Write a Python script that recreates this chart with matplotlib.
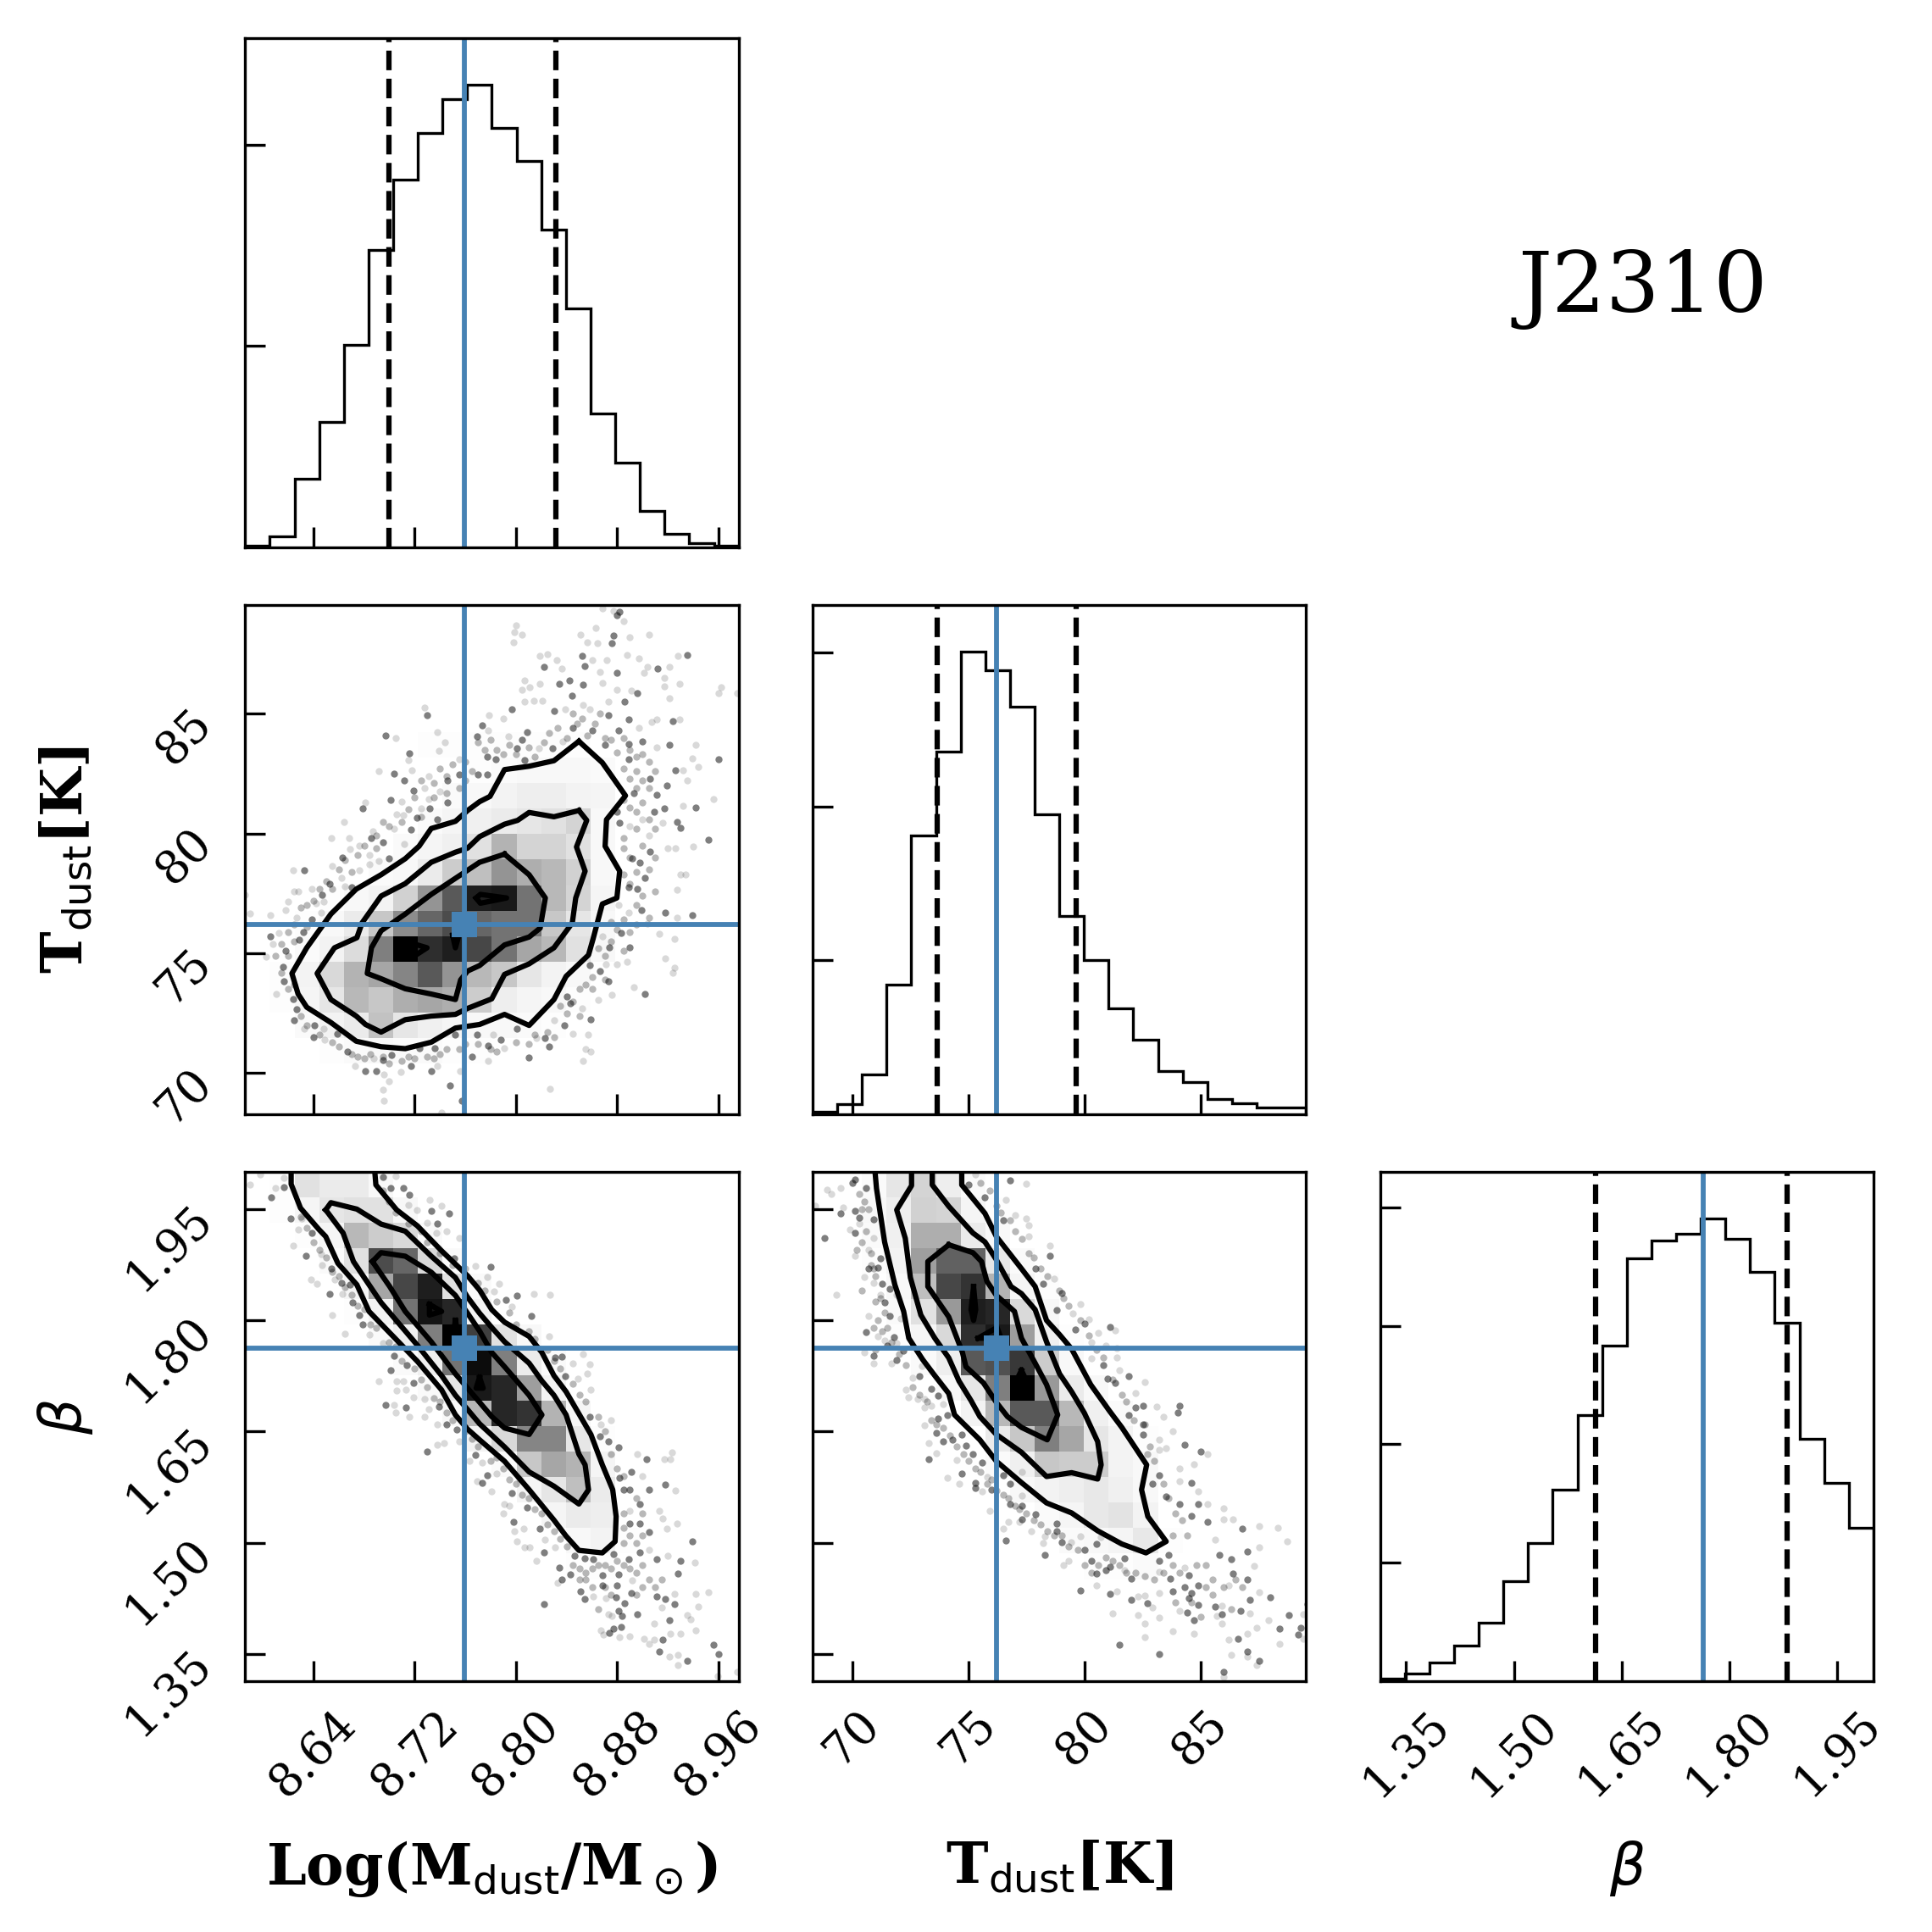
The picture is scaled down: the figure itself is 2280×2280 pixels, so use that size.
import numpy as np
import matplotlib
matplotlib.use("Agg")
import matplotlib.pyplot as plt
from matplotlib.transforms import ScaledTranslation

plt.rcParams['font.family'] = 'DejaVu Serif'
plt.rcParams['mathtext.fontset'] = 'dejavusans'
plt.rcParams['axes.linewidth'] = 0.8

# axis ranges and ticks
m_range = [8.5862, 8.9758]
t_range = [68.29, 89.53]
b_range = [1.3137, 2.0]
m_ticks = [8.64, 8.72, 8.80, 8.88, 8.96]
t_ticks = [70, 75, 80, 85]
b_ticks = [1.35, 1.50, 1.65, 1.80, 1.95]
m_labels = ['8.64', '8.72', '8.80', '8.88', '8.96']
t_labels = ['70', '75', '80', '85']
b_labels = ['1.35', '1.50', '1.65', '1.80', '1.95']

# best values and 16/84 percentiles
m_true, t_true, b_true = 8.7596, 76.22, 1.763
m_q = [8.6995, 8.8314]
t_q = [73.67, 79.64]
b_q = [1.614, 1.88]

# marginal histograms
m_hist = [3, 28, 171, 311, 502, 739, 913, 1029, 1113, 1149, 1042, 960, 789, 594, 332, 211, 91, 34, 11, 4]
t_hist = [8, 31, 128, 421, 906, 1178, 1503, 1442, 1324, 975, 643, 499, 343, 242, 139, 103, 50, 36, 20, 20]
b_hist = [4, 13, 31, 60, 98, 168, 233, 323, 449, 567, 714, 744, 756, 782, 747, 692, 605, 409, 335, 259]
m_hist_ticks = [500, 1000]
t_hist_ticks = [500, 1000, 1500]
b_hist_ticks = [200, 400, 600, 800]

# 2d density, rows run from the top of the panel down
h_mt = [
    [0]*20,
    [0]*20,
    [0]*20,
    [0]*20,
    [0]*20,
    [0,0,0,0,0,0,0,1,1,1,1,1,1,1,0,0,0,0,0,0],
    [0,0,0,0,0,0,0,0,0,1,2,3,3,3,2,0,0,0,0,0],
    [0,0,0,0,0,0,0,0,2,3,5,7,7,5,4,0,0,0,0,0],
    [0,0,0,0,0,0,0,2,4,6,8,10,12,17,3,0,0,0,0,0],
    [0,0,0,0,0,0,2,4,6,12,30,17,17,12,3,0,0,0,0,0],
    [0,0,0,0,0,2,3,8,20,25,42,32,28,18,3,0,0,0,0,0],
    [0,0,0,1,3,5,18,42,65,88,90,55,28,17,4,0,0,0,0,0],
    [0,0,1,3,8,22,45,60,70,60,55,55,22,10,3,0,0,0,0,0],
    [0,0,2,5,14,50,100,82,88,72,55,35,28,12,3,0,0,0,0,0],
    [0,1,5,15,30,35,48,65,42,28,22,10,5,3,0,0,0,0,0,0],
    [0,1,4,10,28,22,32,35,32,20,7,4,3,1,0,0,0,0,0,0],
    [0,0,2,5,8,24,10,6,4,3,3,2,1,0,0,0,0,0,0,0],
    [0,0,0,1,2,3,2,2,1,1,0,0,0,0,0,0,0,0,0,0],
    [0]*20,
    [0]*20,
]
h_mb = [
    [0,1,12,8,8,3,0,0,0,0,0,0,0,0,0,0,0,0,0,0],
    [0,1,4,10,12,12,3,0,0,0,0,0,0,0,0,0,0,0,0,0],
    [0,0,1,4,28,20,15,2,0,0,0,0,0,0,0,0,0,0,0,0],
    [0,0,0,2,12,70,60,15,2,0,0,0,0,0,0,0,0,0,0,0],
    [0,0,0,0,4,35,72,88,12,2,0,0,0,0,0,0,0,0,0,0],
    [0,0,0,0,1,5,55,92,85,5,0,0,0,0,0,0,0,0,0,0],
    [0,0,0,0,0,2,6,50,100,75,12,3,0,0,0,0,0,0,0,0],
    [0,0,0,0,0,0,2,6,55,95,50,8,2,0,0,0,0,0,0,0],
    [0,0,0,0,0,0,0,2,10,90,85,38,5,0,0,0,0,0,0,0],
    [0,0,0,0,0,0,0,0,3,28,85,80,30,4,0,0,0,0,0,0],
    [0,0,0,0,0,0,0,0,0,5,15,48,48,10,1,0,0,0,0,0],
    [0,0,0,0,0,0,0,0,0,0,2,22,35,30,4,0,0,0,0,0],
    [0,0,0,0,0,0,0,0,0,0,0,4,10,25,8,0,0,0,0,0],
    [0,0,0,0,0,0,0,0,0,0,0,0,4,8,7,0,0,0,0,0],
    [0,0,0,0,0,0,0,0,0,0,0,0,0,3,5,1,0,0,0,0],
    [0,0,0,0,0,0,0,0,0,0,0,0,0,1,1,0,0,0,0,0],
    [0]*20,
    [0]*20,
    [0]*20,
    [0]*20,
]
h_tb = [
    [0,0,2,10,17,7,2,0,0,0,0,0,0,0,0,0,0,0,0,0],
    [0,0,3,7,18,17,4,1,0,0,0,0,0,0,0,0,0,0,0,0],
    [0,0,2,6,32,32,8,3,0,0,0,0,0,0,0,0,0,0,0,0],
    [0,0,1,5,38,62,62,10,2,0,0,0,0,0,0,0,0,0,0,0],
    [0,0,0,3,25,72,80,30,4,1,0,0,0,0,0,0,0,0,0,0],
    [0,0,0,2,12,40,88,85,15,3,0,0,0,0,0,0,0,0,0,0],
    [0,0,0,1,4,15,82,90,38,6,1,0,0,0,0,0,0,0,0,0],
    [0,0,0,0,2,7,65,68,78,20,3,0,0,0,0,0,0,0,0,0],
    [0,0,0,0,0,3,10,50,100,40,8,3,0,0,0,0,0,0,0,0],
    [0,0,0,0,0,0,5,28,65,65,28,6,2,0,0,0,0,0,0,0],
    [0,0,0,0,0,0,0,8,22,50,35,10,5,1,0,0,0,0,0,0],
    [0,0,0,0,0,0,0,2,6,22,20,20,5,3,0,0,0,0,0,0],
    [0,0,0,0,0,0,0,0,3,5,7,9,6,3,0,0,0,0,0,0],
    [0,0,0,0,0,0,0,0,0,2,4,9,11,5,0,0,0,0,0,0],
    [0,0,0,0,0,0,0,0,0,0,2,3,4,9,1,0,0,0,0,0],
    [0,0,0,0,0,0,0,0,0,0,0,1,1,2,0,0,0,0,0,0],
    [0]*20,
    [0]*20,
    [0]*20,
    [0]*20,
]

# contour lines: logM vs T
mt_c1_x = [8.8497,8.8682,8.8865,8.8715,8.8704,8.8819,8.8797,8.8682,8.8609,8.8573,8.8396,8.8300,8.8104,8.7910,8.7713,8.7522,8.7331,8.7126,8.6935,8.6739,8.6539,8.6348,8.6280,8.6231,8.6348,8.6539,8.6739,8.6935,8.7126,8.7235,8.7331,8.7522,8.7618,8.7713,8.7795,8.7910,8.8104,8.8300,8.8497]
mt_c1_y = [83.85,82.96,81.58,80.58,79.47,78.43,77.31,77.06,75.60,74.93,74.04,73.07,71.99,72.45,72.03,71.88,71.29,71.02,71.10,71.33,72.11,72.75,73.30,74.16,75.23,76.64,77.68,78.28,78.95,79.47,80.21,80.51,80.96,81.33,81.55,82.67,82.81,83.04,83.85]
mt_c2_x = [8.8497,8.8559,8.8478,8.8546,8.8472,8.8445,8.8300,8.8104,8.7910,8.7809,8.7618,8.7522,8.7331,8.7126,8.6935,8.6812,8.6739,8.6539,8.6430,8.6567,8.6744,8.6785,8.6935,8.7126,8.7331,8.7522,8.7618,8.7713,8.7910,8.8013,8.8104,8.8300,8.8497]
mt_c2_y = [80.96,80.55,79.44,78.43,77.31,76.27,75.23,74.56,74.12,73.10,72.70,72.45,72.38,72.23,71.71,72.03,72.38,73.07,74.16,75.23,75.65,76.27,77.39,77.91,78.80,79.22,79.39,79.87,80.39,80.55,80.88,80.70,80.96]
mt_c3_x = [8.7910,8.8104,8.8232,8.8191,8.8104,8.7910,8.7713,8.7618,8.7563,8.7522,8.7331,8.7126,8.6935,8.6826,8.6859,8.6935,8.7126,8.7331,8.7522,8.7713,8.7910]
mt_c3_y = [79.14,78.28,77.31,76.05,75.68,75.35,74.49,74.26,73.89,73.07,73.30,73.52,73.94,74.16,75.23,75.94,76.64,77.46,78.13,78.80,79.14]
mt_c4_x = [8.7686,8.7719,8.7926,8.7719,8.7686]
mt_c4_y = [77.31,77.46,77.31,77.09,77.31]
mt_c5_x = [8.7222,8.7298,8.7222]
mt_c5_y = [75.35,75.23,74.97]
mt_c6_x = [8.7500,8.7522,8.7549,8.7500]
mt_c6_y = [75.75,75.23,75.75,75.75]

# logM vs beta
mb_c1_x = [8.6225,8.6225,8.6299,8.6444,8.6498,8.6594,8.6744,8.6840,8.7031,8.7222,8.7413,8.7522,8.7618,8.7713,8.7910,8.8104,8.8300,8.8396,8.8497,8.8682,8.8783,8.8791,8.8764,8.8682,8.8592,8.8396,8.8300,8.8205,8.8104,8.7910,8.7809,8.7713,8.7618,8.7413,8.7222,8.7058,8.6894,8.6886]
mb_c1_y = [1.9995,1.9837,1.9514,1.9226,1.9130,1.8769,1.8480,1.8120,1.7783,1.7446,1.7061,1.6725,1.6532,1.6388,1.6099,1.5715,1.5306,1.5089,1.4897,1.4863,1.5017,1.5354,1.5715,1.6051,1.6460,1.7037,1.7254,1.7566,1.7783,1.7975,1.8144,1.8408,1.8601,1.8937,1.9274,1.9490,1.9827,1.9995]
mb_c2_x = [8.6498,8.6539,8.6744,8.6935,8.7126,8.7331,8.7522,8.7618,8.7713,8.7809,8.7910,8.8104,8.8205,8.8300,8.8396,8.8497,8.8546,8.8573,8.8497,8.8300,8.8104,8.7910,8.7713,8.7618,8.7522,8.7413,8.7222,8.7031,8.6935,8.6840,8.6717,8.6635,8.6498]
mb_c2_y = [1.9490,1.9587,1.9500,1.9298,1.9202,1.8865,1.8576,1.8312,1.8095,1.7903,1.7711,1.7422,1.7182,1.6989,1.6725,1.6196,1.6051,1.5715,1.5522,1.5763,1.5955,1.6292,1.6604,1.6797,1.6989,1.7254,1.7663,1.8047,1.8240,1.8480,1.8793,1.9178,1.9490]
mb_c3_x = [8.6867,8.6935,8.7126,8.7331,8.7522,8.7618,8.7713,8.7809,8.7910,8.8104,8.8205,8.8104,8.7910,8.7809,8.7618,8.7522,8.7331,8.7126,8.7003,8.6867]
mb_c3_y = [1.8793,1.8913,1.8865,1.8649,1.8336,1.8095,1.7855,1.7566,1.7374,1.6989,1.6725,1.6460,1.6547,1.6701,1.7085,1.7278,1.7711,1.8120,1.8456,1.8793]
mb_c4_x = [8.7317,8.7413,8.7317,8.7317]
mb_c4_y = [1.8216,1.8120,1.8071,1.8216]
mb_c5_x = [8.7522,8.7549,8.7500,8.7522]
mb_c5_y = [1.8000,1.7759,1.7759,1.8000]
mb_c6_x = [8.7713,8.7741,8.7686,8.7713]
mb_c6_y = [1.7230,1.7085,1.7085,1.7230]

# T vs beta
tb_c1_x = [70.98,71.04,71.39,71.83,72.21,72.43,73.03,73.55,74.15,74.40,75.49,76.20,77.28,78.36,79.44,80.56,81.60,82.64,83.51,82.72,82.45,82.67,81.60,81.08,80.26,79.44,78.92,78.36,77.87,77.28,76.20,75.71,74.71,74.71]
tb_c1_y = [1.9995,1.9779,1.9057,1.8480,1.8120,1.7759,1.7470,1.7254,1.7013,1.6725,1.6388,1.6099,1.5811,1.5537,1.5402,1.5161,1.4983,1.4863,1.5017,1.5354,1.5715,1.6051,1.6556,1.6773,1.7133,1.7614,1.7807,1.7999,1.8456,1.8697,1.9130,1.9442,1.9827,1.9995]
tb_c2_x = [72.55,72.55,71.91,72.28,72.50,72.95,73.55,74.15,74.59,75.11,75.49,76.20,77.28,78.36,79.44,80.56,80.71,80.56,79.99,79.44,78.92,78.36,77.87,77.28,76.83,76.20,75.71,75.19,74.15,73.44,73.44]
tb_c2_y = [1.9995,1.9817,1.9490,1.9106,1.8576,1.8071,1.7759,1.7494,1.7182,1.6917,1.6701,1.6460,1.6220,1.5893,1.5945,1.5859,1.6051,1.6364,1.6749,1.7037,1.7278,1.7711,1.8144,1.8360,1.8456,1.8817,1.9057,1.9178,1.9538,1.9827,1.9995]
tb_c3_x = [74.15,75.19,75.56,75.79,76.20,76.98,77.28,77.87,78.36,78.84,78.39,77.28,76.68,76.20,75.64,74.89,74.74,74.15,73.25,73.25,74.15]
tb_c3_y = [1.9019,1.8913,1.8793,1.8528,1.8336,1.8120,1.7759,1.7422,1.7133,1.6725,1.6388,1.6556,1.6701,1.6893,1.7158,1.7374,1.7566,1.8047,1.8456,1.8793,1.9019]
tb_c4_x = [75.22,75.31,75.22,75.11,75.22]
tb_c4_y = [1.8456,1.8144,1.7999,1.8144,1.8456]
tb_c5_x = [75.41,76.23,76.40,75.41]
tb_c5_y = [1.7759,1.7903,1.7759,1.7759]
tb_c6_x = [77.28,77.57,76.98,77.28]
tb_c6_y = [1.7326,1.7133,1.7133,1.7326]

# samples outside the contours, faint ones and the darker overlapped ones
mt_faint = [(8.877,89.3),(8.868,89.4),(8.863,88.6),(8.885,88.85),(8.905,88.3),(8.89,88.2),(8.864,87.95),(8.856,88.0),(8.851,88.3),(8.8,88.7),(8.805,88.3),(8.799,88.4),(8.798,88.0),(8.928,87.4),(8.897,87.3),(8.888,87.45),(8.872,87.25),(8.86,87.25),(8.832,87.25),(8.825,87.5),(8.819,87.4),(8.836,86.9),(8.904,86.95),(8.921,86.95),(8.901,86.7),(8.866,86.75),(8.917,86.5),(8.807,86.4),(8.819,86.25),(8.868,86.3),(8.88,86.0),(8.891,85.95),(8.921,85.65),(8.929,86.25),(8.917,86.15),(8.962,86.1),(8.96,85.85),(8.975,85.85),(8.805,86.0),(8.811,86.1),(8.821,85.55),(8.814,85.55),(8.807,85.5),(8.873,85.5),(8.853,85.35),(8.839,85.2),(8.858,85.2),(8.929,84.75),(8.911,84.75),(8.907,84.65),(8.897,84.4),(8.79,84.8),(8.779,84.95),(8.778,84.3),(8.794,84.05),(8.818,83.55),(8.837,83.85),(8.911,83.6),(8.942,83.7),(8.939,83.15),(8.944,82.8),(8.932,82.65),(8.935,82.2),
    (8.728,85.25),(8.738,84.25),(8.705,84.0),(8.715,83.05),(8.739,83.45),(8.744,83.8),(8.755,83.1),(8.692,82.6),(8.718,82.65),(8.731,82.4),(8.728,81.9),(8.71,81.35),(8.731,81.45),(8.74,81.75),(8.681,81.3),(8.725,81.05),(8.706,80.8),(8.711,80.75),(8.664,80.5),(8.687,80.1),(8.704,80.2),(8.654,79.8),(8.668,79.8),(8.712,79.55),(8.676,79.5),(8.669,79.35),(8.684,79.1),(8.692,78.85),(8.684,78.7),(8.655,78.65),(8.624,78.45),(8.662,78.15),(8.676,78.45),(8.639,77.7),(8.628,77.6),(8.625,77.6),(8.665,77.8),(8.62,77.15),(8.648,77.15),(8.642,77.1),(8.618,76.8),(8.586,77.45),(8.59,76.65),(8.606,76.6),(8.627,76.5),(8.646,76.7),(8.613,75.85),(8.608,75.4),(8.603,74.85),(8.611,73.3),(8.633,71.85),(8.648,71.85),(8.649,71.4),
    (8.673,70.3),(8.688,70.6),(8.696,69.95),(8.709,70.05),(8.738,70.3),(8.695,69.3),(8.696,68.85),(8.7,69.65),(8.741,68.35),(8.756,70.1),(8.778,70.5),(8.791,71.05),(8.782,71.6),(8.816,71.45),(8.827,69.35),(8.855,71.0),(8.859,70.9),(8.853,70.5),(8.857,71.6),(8.845,71.65),(8.83,72.2),(8.852,72.7),(8.865,73.05),(8.876,73.25),(8.893,73.6),(8.88,74.55),(8.871,74.55),(8.888,74.65),(8.924,74.2),(8.925,74.4),(8.918,74.8),(8.925,75.6),(8.913,75.8),(8.868,75.7),(8.904,76.25),(8.927,76.5),(8.889,76.7),(8.881,77.0),(8.927,77.65),(8.934,78.3),(8.93,78.3),(8.92,79.4),(8.926,79.4),(8.94,79.45),(8.905,79.9),(8.89,80.3),(8.9,80.6),(8.916,80.45),(8.956,81.45),(8.932,81.15)]
mt_dark = [(8.882,89.25),(8.88,89.1),(8.877,88.25),(8.876,87.95),(8.935,87.45),(8.852,87.4),(8.854,87.0),(8.822,86.95),(8.912,86.9),(8.88,86.7),(8.842,86.4),(8.834,86.25),(8.853,86.2),(8.896,85.85),(8.844,85.75),(8.886,85.5),(8.797,85.2),(8.83,85.1),(8.873,84.95),(8.889,84.75),(8.881,84.3),(8.924,84.7),(8.845,84.4),(8.86,84.3),(8.809,84.25),(8.773,84.5),(8.769,84.05),(8.805,83.9),(8.801,83.55),(8.829,83.55),(8.87,83.7),(8.889,83.75),(8.9,83.85),(8.921,83.7),(8.96,83.1),(8.926,82.65),(8.906,82.3),(8.919,82.0),(8.889,83.1),(8.777,83.2),(8.784,83.1),(8.807,83.05),(8.77,82.45),(8.777,82.45),
    (8.73,84.95),(8.697,84.1),(8.716,83.35),(8.704,82.5),(8.712,82.2),(8.746,82.2),(8.755,82.45),(8.719,81.8),(8.701,81.4),(8.746,81.3),(8.679,81.05),(8.732,81.05),(8.722,80.65),(8.738,80.6),(8.717,80.15),(8.686,79.8),(8.695,79.65),(8.663,79.0),(8.7,78.95),(8.633,78.45),(8.653,77.9),(8.647,77.45),(8.67,77.75),(8.639,76.4),(8.632,75.9),(8.606,75.7),(8.629,75.55),(8.618,75.1),(8.616,74.45),(8.617,73.85),(8.624,73.1),(8.627,72.65),(8.625,72.2),(8.641,72.0),(8.64,71.5),(8.659,71.65),
    (8.667,70.9),(8.681,70.1),(8.69,70.1),(8.695,70.55),(8.702,70.75),(8.717,70.3),(8.733,70.1),(8.748,69.5),(8.757,68.85),(8.765,70.7),(8.778,71.15),(8.788,71.4),(8.769,71.6),(8.752,71.6),(8.736,71.05),(8.724,71.05),(8.801,71.85),(8.81,70.65),(8.826,71.1),(8.823,71.45),(8.838,72.0),(8.859,72.25),(8.843,72.9),(8.84,73.2),(8.902,73.3),(8.873,73.85),(8.866,74.25),(8.858,74.5),(8.874,75.25),(8.89,75.25),(8.883,75.85),(8.918,76.7),(8.939,76.6),(8.899,76.8),(8.896,77.7),(8.889,77.75),(8.902,78.15),(8.898,78.8),(8.892,78.95),(8.906,79.25),(8.952,79.75),(8.93,80.25),(8.927,80.5),(8.882,80.45),(8.88,80.9),(8.942,81.1),(8.917,81.05),(8.909,80.9),(8.911,81.6),(8.893,81.7)]
mt_band = [(8.77,83.8),(8.775,83.5),(8.78,83.9),(8.785,83.5),(8.79,83.3),(8.795,83.7),(8.8,83.3),(8.81,83.6),(8.815,83.2),(8.822,83.8),(8.826,84.2),(8.833,84.4),(8.84,84.0),(8.845,85.0),(8.848,84.6),(8.852,84.8),(8.856,84.1),(8.862,84.6),(8.866,85.0),(8.87,84.0),(8.875,83.9),(8.88,83.4),(8.885,84.0),(8.89,83.5),(8.895,83.2),(8.9,83.3),(8.905,83.0),(8.91,82.6),(8.895,82.6),(8.9,82.2),(8.89,82.3),(8.885,82.7),(8.895,81.9),(8.905,81.9),(8.9,81.3),(8.89,81.1),(8.885,81.4),(8.895,80.9),(8.905,80.6),(8.91,80.2),(8.895,80.2),(8.885,79.8),(8.885,79.4),(8.89,79.0),(8.9,79.5),(8.91,79.0),(8.895,78.4),(8.905,78.5),(8.885,78.3),(8.89,77.9),(8.9,77.4),(8.91,77.6),(8.895,77.0),(8.905,76.5),(8.885,76.4),(8.875,76.3),(8.88,76.0),(8.89,75.9),(8.895,76.2),(8.875,75.5),(8.865,75.2),(8.87,74.9),(8.885,75.1),(8.86,74.0),(8.87,73.9),(8.855,73.7),(8.85,73.5),(8.86,73.5),(8.845,73.0),(8.85,72.4),(8.84,72.5),(8.835,72.8),
    (8.76,83.0),(8.75,82.9),(8.74,82.7),(8.745,82.4),(8.735,82.1),(8.725,82.2),(8.76,82.2),(8.765,82.6),(8.755,81.9),(8.745,81.7),(8.735,81.5),(8.72,81.5),(8.715,81.0),(8.725,80.7),(8.71,80.5),(8.7,80.3),(8.695,80.5),(8.69,79.9),(8.68,79.5),(8.69,79.4),(8.675,79.1),(8.665,78.9),(8.67,78.4),(8.66,78.5),(8.65,78.0),(8.655,77.7),(8.645,77.7),(8.64,77.2),(8.635,77.0),(8.63,76.9),(8.625,76.2),(8.635,76.1),(8.62,75.9),(8.625,75.5),(8.615,75.4),(8.62,74.9),(8.61,74.9),(8.615,74.2),(8.62,73.5),(8.625,73.7),
    (8.63,72.4),(8.635,72.0),(8.645,71.6),(8.655,71.3),(8.66,71.1),(8.67,70.8),(8.675,70.7),(8.68,70.6),(8.685,70.8),(8.695,70.7),(8.7,70.4),(8.71,70.5),(8.715,70.7),(8.72,70.6),(8.73,70.7),(8.735,70.6),(8.74,70.8),(8.745,71.0),(8.755,71.0),(8.76,71.2),(8.77,71.2),(8.78,71.0),(8.785,70.9),(8.8,71.3),(8.81,71.2),(8.815,71.6),(8.825,71.7),(8.83,71.5)]

mb_faint = [(8.59,1.983),(8.598,1.997),(8.61,1.978),(8.617,1.992),(8.631,1.937),(8.628,1.923),(8.624,1.901),(8.646,1.889),(8.647,1.874),(8.638,1.855),(8.643,1.849),(8.657,1.855),(8.663,1.836),(8.655,1.807),(8.665,1.782),(8.684,1.781),(8.695,1.769),(8.711,1.718),(8.706,1.718),(8.692,1.718),(8.706,1.705),(8.713,1.706),(8.719,1.696),(8.728,1.694),(8.704,1.686),(8.705,1.676),(8.716,1.67),(8.728,1.67),(8.731,1.68),(8.738,1.66),(8.743,1.634),(8.738,1.632),(8.755,1.637),(8.763,1.61),(8.773,1.608),(8.769,1.583),(8.781,1.569),(8.785,1.593),(8.791,1.552),(8.795,1.55),(8.803,1.586),(8.79,1.539),(8.806,1.519),(8.799,1.516),(8.801,1.502),(8.807,1.494),(8.811,1.494),(8.823,1.504),(8.831,1.494),(8.816,1.476),(8.833,1.446),(8.892,1.449),(8.861,1.427),(8.871,1.425),(8.876,1.401),(8.873,1.403),(8.867,1.382),(8.869,1.376),(8.882,1.373),(8.89,1.374),(8.901,1.37),(8.905,1.363),(8.909,1.369),(8.909,1.391),(8.922,1.377),(8.93,1.377),(8.921,1.346),(8.928,1.349),(8.928,1.335),(8.942,1.382),(8.938,1.397),(8.935,1.402),(8.944,1.414),(8.952,1.433),(8.942,1.431),(8.925,1.431),(8.915,1.413),(8.959,1.32),(8.975,1.326),(8.92,1.482),(8.941,1.473),(8.927,1.526),(8.919,1.519),(8.913,1.543),(8.916,1.533),(8.926,1.57),(8.896,1.62),(8.917,1.613),(8.922,1.613),(8.923,1.622),(8.9,1.59),(8.89,1.543),(8.905,1.49),(8.875,1.665),(8.867,1.66),(8.859,1.706),(8.856,1.728),(8.858,1.741),(8.853,1.754),(8.849,1.721),(8.845,1.742),(8.826,1.778),(8.827,1.835),(8.814,1.836),(8.797,1.818),(8.787,1.849),(8.783,1.839),(8.768,1.873),(8.777,1.858),(8.755,1.911),(8.741,1.955),(8.732,1.963),(8.73,1.932),(8.745,1.92),(8.737,1.918),(8.722,1.949),(8.705,1.995),(8.715,1.956)]
mb_dark = [(8.607,1.966),(8.617,1.98),(8.622,1.937),(8.639,1.918),(8.634,1.887),(8.654,1.87),(8.662,1.85),(8.669,1.848),(8.653,1.836),(8.671,1.824),(8.676,1.807),(8.679,1.795),(8.704,1.752),(8.714,1.74),(8.701,1.733),(8.719,1.716),(8.697,1.686),(8.713,1.683),(8.739,1.684),(8.745,1.66),(8.753,1.653),(8.73,1.623),(8.768,1.618),(8.777,1.591),(8.773,1.581),(8.797,1.567),(8.809,1.547),(8.798,1.528),(8.819,1.519),(8.822,1.487),(8.834,1.466),(8.836,1.45),(8.843,1.457),(8.822,1.417),(8.851,1.434),(8.854,1.424),(8.846,1.482),(8.854,1.479),(8.861,1.478),(8.868,1.456),(8.877,1.485),(8.889,1.478),(8.881,1.457),(8.868,1.442),(8.88,1.442),(8.879,1.426),(8.891,1.432),(8.886,1.418),(8.881,1.408),(8.884,1.401),(8.896,1.403),(8.883,1.386),(8.877,1.384),(8.874,1.378),(8.913,1.353),(8.916,1.369),(8.921,1.396),(8.935,1.341),(8.956,1.362),(8.96,1.35),(8.925,1.417),(8.918,1.424),(8.911,1.427),(8.928,1.458),(8.939,1.502),(8.93,1.475),(8.918,1.578),(8.905,1.571),(8.903,1.613),(8.898,1.552),(8.898,1.526),(8.905,1.514),(8.89,1.526),(8.911,1.478),(8.898,1.487),(8.882,1.588),(8.885,1.571),(8.891,1.595),(8.89,1.571),(8.881,1.629),(8.873,1.637),(8.866,1.644),(8.858,1.67),(8.839,1.725),(8.831,1.75),(8.836,1.751),(8.801,1.833),(8.812,1.806),(8.792,1.828),(8.78,1.872),(8.751,1.884),(8.747,1.944),(8.733,1.948),(8.738,1.93),(8.716,1.969),(8.711,1.979),(8.695,1.993),(8.701,1.978)]
mb_band = [(8.63,1.94),(8.635,1.925),(8.64,1.905),(8.645,1.895),(8.65,1.885),(8.655,1.865),(8.66,1.86),(8.665,1.845),(8.67,1.835),(8.675,1.82),(8.68,1.815),(8.685,1.795),(8.69,1.79),(8.7,1.77),(8.705,1.765),(8.71,1.745),(8.72,1.735),(8.725,1.72),(8.73,1.71),(8.735,1.695),(8.74,1.69),(8.745,1.675),(8.75,1.665),(8.76,1.65),(8.765,1.64),(8.77,1.63),(8.78,1.61),(8.785,1.615),(8.79,1.6),(8.795,1.585),(8.8,1.58),(8.805,1.565),(8.81,1.56),(8.815,1.545),(8.82,1.54),(8.825,1.525),(8.83,1.515),(8.835,1.505),(8.84,1.495),(8.845,1.47),(8.85,1.465),(8.855,1.46),(8.86,1.465),(8.865,1.47),(8.87,1.47),(8.875,1.465),(8.88,1.475),(8.885,1.47),(8.89,1.465),(8.895,1.46),(8.9,1.47),
    (8.885,1.52),(8.885,1.54),(8.89,1.51),(8.895,1.5),(8.885,1.5),(8.9,1.51),(8.9,1.54),(8.895,1.56),(8.905,1.45),(8.9,1.44),(8.895,1.43),(8.875,1.43),(8.865,1.41),(8.87,1.44),(8.86,1.44),(8.855,1.45),(8.85,1.45),(8.91,1.44),(8.915,1.45),(8.885,1.59),(8.88,1.6),(8.875,1.62),(8.87,1.65),(8.865,1.67),(8.855,1.69),(8.85,1.7),(8.845,1.715),(8.835,1.735),(8.83,1.745),(8.825,1.76),(8.815,1.775),(8.81,1.785),(8.8,1.795),(8.795,1.81),(8.785,1.825),(8.775,1.84),(8.77,1.85),(8.76,1.87),(8.75,1.875),(8.74,1.89),(8.73,1.905),(8.725,1.92),(8.715,1.93),(8.705,1.945),(8.7,1.96),(8.695,1.975)]

tb_faint = [(68.4,1.955),(68.9,1.976),(69.1,1.971),(69.5,1.979),(69.6,1.952),(70.3,1.93),(69.9,1.923),(70.9,1.911),(70.7,1.895),(70.1,1.887),(70.5,1.859),(70.9,1.85),(69.3,1.835),(71.2,1.834),(71.9,1.834),(72.1,1.802),(70.7,1.806),(71.1,1.778),(71.4,1.773),(71.9,1.769),(70.5,1.757),(70.9,1.742),(71.7,1.742),(72.6,1.722),(73.0,1.738),(72.3,1.706),(72.4,1.696),(72.8,1.694),(73.1,1.694),(73.1,1.682),(73.4,1.685),(73.9,1.687),(73.1,1.658),(73.3,1.634),(73.6,1.621),(74.5,1.612),(74.1,1.587),(74.6,1.579),(75.8,1.589),(75.6,1.569),(77.3,1.596),(77.3,1.564),(75.9,1.543),(76.7,1.528),(77.2,1.528),(77.7,1.516),(76.5,1.519),(78.3,1.509),(78.2,1.499),(79.4,1.501),(79.3,1.475),(79.1,1.47),(79.8,1.509),(80.7,1.507),(80.5,1.442),(81.4,1.434),(81.7,1.463),(82.3,1.427),(82.6,1.429),(82.9,1.413),(83.2,1.399),(82.3,1.402),(81.2,1.405),(82.6,1.391),(82.6,1.373),(83.8,1.381),(83.2,1.461),(84.3,1.466),(83.2,1.432),(84.1,1.408),(84.7,1.377),(85.9,1.415),(85.7,1.401),(85.9,1.391),(86.2,1.442),(87.5,1.494),(87.3,1.469),(87.5,1.433),(87.1,1.405),(87.9,1.395),(89.4,1.404),(87.4,1.385),(87.0,1.377),(86.2,1.369),(88.4,1.363),(89.4,1.37),(86.3,1.349),(87.4,1.335),(87.0,1.346),(86.0,1.319),(88.7,1.502),(88.3,1.52),(87.5,1.522),(86.0,1.546),(86.4,1.532),(86.0,1.532),(85.6,1.504),(85.3,1.552),(84.9,1.569),(84.1,1.6),(84.1,1.583),(84.7,1.606),(85.3,1.62),(83.5,1.627),(83.2,1.625),(83.2,1.639),(83.8,1.65),(83.4,1.67),(83.1,1.684),(82.2,1.702),(82.6,1.717),(81.5,1.733),(81.4,1.75),(80.9,1.766),(80.3,1.749),(81.4,1.762),(81.3,1.787),(80.6,1.783),(80.3,1.771),(79.8,1.822),(80.2,1.801),(79.5,1.809),(78.7,1.856),(78.5,1.901),(77.6,1.913),(77.5,1.937),(77.6,1.928),(77.0,1.942),(77.5,1.984),(76.6,1.963),(75.3,1.997)]
tb_dark = [(70.1,1.99),(70.0,1.985),(70.6,1.978),(69.5,1.944),(70.1,1.948),(70.3,1.938),(70.1,1.918),(68.8,1.911),(70.9,1.936),(71.2,1.884),(70.7,1.87),(71.1,1.871),(71.3,1.849),(71.6,1.843),(71.4,1.824),(71.6,1.806),(70.6,1.784),(71.8,1.777),(71.5,1.766),(70.9,1.752),(71.9,1.746),(72.2,1.759),(72.9,1.725),(73.4,1.708),(73.7,1.699),(73.7,1.668),(74.1,1.672),(73.6,1.648),(73.9,1.637),(74.3,1.639),(74.7,1.646),(73.3,1.613),(74.9,1.631),(75.2,1.62),(75.6,1.608),(74.7,1.593),(75.3,1.581),(75.3,1.574),(76.0,1.571),(76.5,1.591),(76.8,1.579),(76.8,1.552),(77.3,1.55),(77.9,1.538),(77.3,1.531),(76.6,1.503),(78.8,1.526),(78.8,1.516),(78.3,1.484),(79.0,1.501),(80.0,1.49),(80.3,1.475),(80.5,1.498),(80.5,1.458),(80.9,1.463),(81.1,1.468),(79.8,1.435),(81.1,1.431),(81.7,1.479),(82.0,1.451),(82.0,1.423),(82.7,1.418),(81.5,1.362),(83.2,1.35),(83.2,1.475),(83.6,1.484),(83.7,1.451),(84.5,1.456),(83.8,1.434),(84.3,1.44),(84.6,1.432),(84.9,1.442),(84.5,1.425),(84.9,1.416),(84.4,1.406),(84.7,1.396),(85.6,1.414),(85.9,1.403),(85.8,1.484),(86.4,1.458),(86.3,1.478),(87.0,1.488),(87.0,1.45),(87.1,1.423),(88.0,1.426),(86.7,1.408),(88.8,1.402),(88.4,1.384),(86.6,1.37),(89.3,1.385),(89.2,1.376),(89.6,1.417),(87.0,1.353),(87.5,1.341),(86.0,1.326),(86.8,1.519),(85.3,1.528),(84.6,1.536),(84.9,1.552),(84.1,1.552),(83.5,1.562),(83.2,1.591),(82.9,1.579),(84.6,1.581),(84.3,1.632),(85.0,1.623),(84.1,1.685),(84.0,1.675),(82.5,1.646),(82.5,1.66),(82.5,1.685),(82.2,1.682),(81.9,1.672),(81.9,1.725),(81.3,1.716),(81.0,1.721),(80.8,1.74),(81.1,1.791),(80.0,1.796),(79.6,1.788),(78.8,1.814),(79.0,1.837),(78.5,1.887),(78.2,1.849),(77.9,1.87),(76.5,1.935),(76.8,1.989),(75.7,1.966),(75.0,1.983)]
tb_band = [(70.4,1.95),(70.6,1.92),(70.8,1.89),(70.9,1.87),(71.0,1.86),(71.2,1.83),(71.4,1.81),(71.5,1.79),(71.7,1.77),(72.0,1.755),(72.3,1.74),(72.6,1.71),(72.9,1.7),(73.2,1.69),(73.4,1.665),(73.6,1.66),(73.9,1.655),(74.2,1.645),(74.5,1.63),(74.8,1.62),(75.0,1.61),(75.3,1.6),(75.5,1.595),(75.8,1.58),(76.0,1.585),(76.2,1.57),(76.5,1.565),(76.7,1.56),(77.0,1.55),(77.2,1.545),(77.5,1.54),(77.8,1.53),(78.1,1.525),(78.4,1.515),(78.7,1.51),(79.0,1.51),(79.3,1.495),(79.7,1.49),(80.0,1.47),(80.3,1.46),(80.6,1.47),(80.9,1.48),(81.2,1.475),(81.5,1.47),(81.8,1.46),(82.2,1.46),(82.6,1.455),(83.0,1.45),(83.4,1.46),(83.8,1.47),(84.1,1.46),(84.8,1.47),(85.2,1.47),(85.5,1.45),(85.2,1.44),(85.0,1.4),(84.6,1.42),(83.9,1.42),(85.5,1.43),(86.0,1.44),(86.5,1.45),(86.8,1.44),(86.3,1.41),
    (83.6,1.56),(83.9,1.54),(84.2,1.53),(83.8,1.51),(84.4,1.51),(83.4,1.58),(83.0,1.61),(82.8,1.63),(82.7,1.62),(82.6,1.66),(82.1,1.665),(81.8,1.69),(81.6,1.7),(81.2,1.72),(80.8,1.75),(80.5,1.76),(80.2,1.78),(79.8,1.8),(79.3,1.82),(79.1,1.83),(78.9,1.84),(78.4,1.86),(78.1,1.87),(77.8,1.885),(77.6,1.89),(77.3,1.91),(77.0,1.92),(76.8,1.935),(76.4,1.945),(76.2,1.955),(75.9,1.975),(75.5,1.985),
    (70.3,1.97),(70.5,1.96),(70.7,1.95),(70.4,1.905),(70.2,1.895),(70.8,1.875),(70.4,1.84),(71.0,1.825),(71.1,1.8),(70.9,1.79),(71.3,1.785),(71.0,1.76)]

blue = '#4682b4'


def hist_panel(ax, counts, xr, q, truth, xticks, yticks):
    edges = np.linspace(xr[0], xr[1], len(counts) + 1)
    ax.stairs(counts, edges, color='k', lw=0.8)
    for v in q:
        ax.axvline(v, color='k', ls='--', lw=1.5)
    ax.axvline(truth, color=blue, lw=1.4)
    ax.set_xlim(xr)
    ax.set_ylim(0, 1.1 * max(counts))
    ax.set_xticks(xticks)
    ax.set_yticks(yticks)
    ax.set_xticklabels([])
    ax.set_yticklabels([])


def density_panel(ax, h, xr, yr, faint, band, dark, lines, tx, ty, xticks, yticks):
    xe = np.linspace(xr[0], xr[1], 21)
    ye = np.linspace(yr[0], yr[1], 21)
    ax.plot(*zip(*faint), 'o', color='k', ms=2, mew=0, alpha=0.15)
    ax.plot(*zip(*band), 'o', color='k', ms=2, mew=0, alpha=0.28)
    ax.plot(*zip(*dark), 'o', color='k', ms=2, mew=0, alpha=0.5)
    ax.pcolormesh(xe, ye, np.array(h)[::-1], cmap='gray_r', vmin=0, vmax=100,
                  alpha=np.where(np.array(h)[::-1] > 0, 1.0, 0.0), antialiased=True)
    for lx, ly in lines:
        ax.plot(lx, ly, color='k', lw=1.5)
    ax.axvline(tx, color=blue, lw=1.4)
    ax.axhline(ty, color=blue, lw=1.4)
    ax.plot([tx], [ty], 's', color=blue, ms=7, mew=0)
    ax.set_xlim(xr)
    ax.set_ylim(yr)
    ax.set_xticks(xticks)
    ax.set_yticks(yticks)
    ax.set_xticklabels([])
    ax.set_yticklabels([])


fig, axes = plt.subplots(3, 3, figsize=(7.6, 7.6), dpi=300)
fig.subplots_adjust(left=0.1269, right=0.9697, top=0.9801, bottom=0.13, wspace=0.15, hspace=0.114)

for ax in [axes[0, 1], axes[0, 2], axes[1, 2]]:
    ax.set_axis_off()

hist_panel(axes[0, 0], m_hist, m_range, m_q, m_true, m_ticks, m_hist_ticks)
hist_panel(axes[1, 1], t_hist, t_range, t_q, t_true, t_ticks, t_hist_ticks)
hist_panel(axes[2, 2], b_hist, b_range, b_q, b_true, b_ticks, b_hist_ticks)

density_panel(axes[1, 0], h_mt, m_range, t_range, mt_faint, mt_band, mt_dark,
              [(mt_c1_x, mt_c1_y), (mt_c2_x, mt_c2_y), (mt_c3_x, mt_c3_y),
               (mt_c4_x, mt_c4_y), (mt_c5_x, mt_c5_y), (mt_c6_x, mt_c6_y)],
              m_true, t_true, m_ticks, t_ticks)
density_panel(axes[2, 0], h_mb, m_range, b_range, mb_faint, mb_band, mb_dark,
              [(mb_c1_x, mb_c1_y), (mb_c2_x, mb_c2_y), (mb_c3_x, mb_c3_y),
               (mb_c4_x, mb_c4_y), (mb_c5_x, mb_c5_y), (mb_c6_x, mb_c6_y)],
              m_true, b_true, m_ticks, b_ticks)
density_panel(axes[2, 1], h_tb, t_range, b_range, tb_faint, tb_band, tb_dark,
              [(tb_c1_x, tb_c1_y), (tb_c2_x, tb_c2_y), (tb_c3_x, tb_c3_y),
               (tb_c4_x, tb_c4_y), (tb_c5_x, tb_c5_y), (tb_c6_x, tb_c6_y)],
              t_true, b_true, t_ticks, b_ticks)

for ax in axes.flat:
    ax.tick_params(direction='in', length=5.8, width=0.8, top=False, right=False)

# tick labels only on the outer edge
for ax, labs in zip(axes[2], [m_labels, t_labels, b_labels]):
    ax.set_xticklabels(labs, rotation=45, fontsize=13)
    ax.tick_params(axis='x', pad=6)
axes[1, 0].set_yticklabels(t_labels, rotation=45, fontsize=13, va='top')
axes[2, 0].set_yticklabels(b_labels, rotation=45, fontsize=13, va='top')
axes[1, 0].tick_params(axis='y', pad=7)
axes[2, 0].tick_params(axis='y', pad=7)

# y tick labels sit a bit higher than va='top' leaves them
lift = ScaledTranslation(0, 3.5 / 72, fig.dpi_scale_trans)
for ax in [axes[1, 0], axes[2, 0]]:
    for lab in ax.get_yticklabels():
        lab.set_transform(lab.get_transform() + lift)

x_names = [r'Log(M$_{\rm dust}$/M$_\odot$)', r'T$_{\rm dust}$[K]', r'$\beta$']
for ax, name in zip(axes[2], x_names):
    ax.set_xlabel(name, fontsize=16, fontweight='bold')
    ax.xaxis.set_label_coords(0.5, -0.31)
axes[1, 0].set_ylabel(x_names[1], fontsize=16, fontweight='bold')
axes[1, 0].yaxis.set_label_coords(-0.305, 0.5)
axes[2, 0].set_ylabel(x_names[2], fontsize=16, fontweight='bold')
axes[2, 0].yaxis.set_label_coords(-0.305, 0.52)

axes[0, 2].text(0.532, 0.507, 'J2310', transform=axes[0, 2].transAxes, fontsize=24,
                ha='center', va='center')

fig.savefig('out.png', dpi=300)
